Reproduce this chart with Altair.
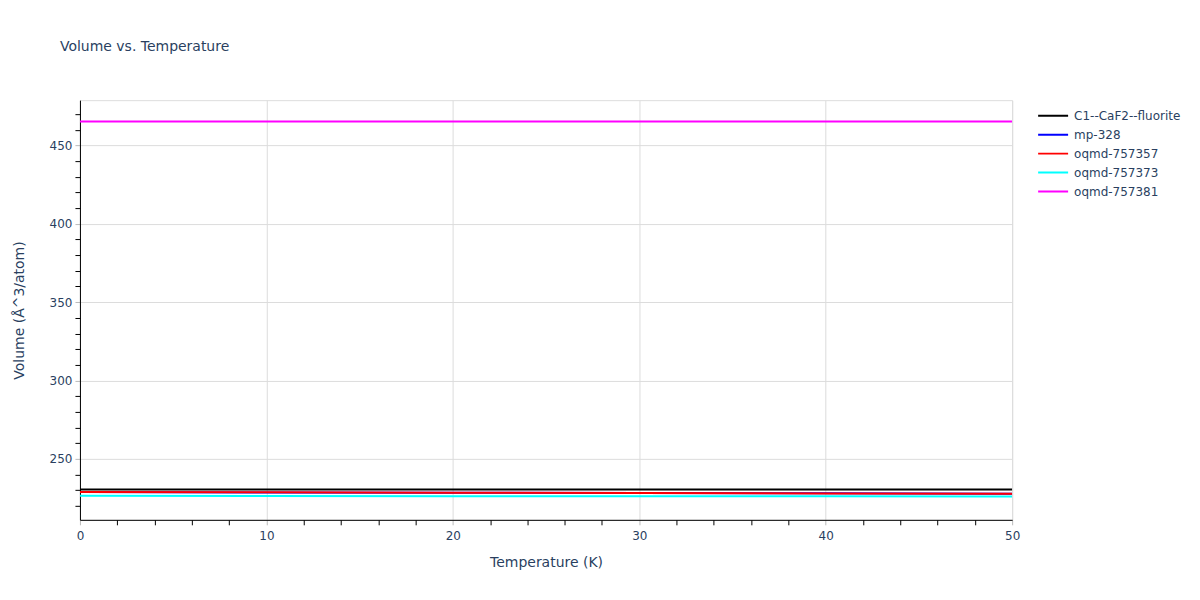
import altair as alt
import pandas as pd

temperature = [0, 10, 20, 30, 40, 50]
c1_caf2_fluorite = [230.3, 230.3, 230.3, 230.3, 230.3, 230.3]
mp_328 = [228.7, 228.5, 228.3, 228.1, 227.9, 227.7]
oqmd_757357 = [228.8, 228.6, 228.3, 228.1, 227.8, 227.6]
oqmd_757373 = [226.3, 226.2, 226.1, 226.0, 226.0, 225.9]
oqmd_757381 = [465.3, 465.3, 465.3, 465.4, 465.4, 465.4]

series_names = ["C1--CaF2--fluorite", "mp-328", "oqmd-757357", "oqmd-757373", "oqmd-757381"]
series_values = [c1_caf2_fluorite, mp_328, oqmd_757357, oqmd_757373, oqmd_757381]
series_colors = ["#000000", "#0000ff", "#ff0000", "#00ffff", "#ff00ff"]

x_tick_values = list(range(0, 51, 2))
y_tick_values = list(range(220, 471, 10))

rows = []
for name, vals in zip(series_names, series_values):
    for t, v in zip(temperature, vals):
        rows.append({"Temperature": t, "Volume": v, "Series": name})
df = pd.DataFrame(rows)

FONT = "DejaVu Sans"
TXT = "#2a3f5f"

x_axis = alt.Axis(
    title="Temperature (K)",
    values=x_tick_values,
    labelExpr="datum.value % 10 === 0 ? datum.label : ''",
    labelFlush=False,
    grid=True,
    gridColor="#dcdcdc",
    gridOpacity={"condition": {"test": "datum.value % 10 !== 0", "value": 0}, "value": 1},
    tickColor={"condition": {"test": "datum.value % 10 !== 0", "value": "#000000"}, "value": "#bbbbbb"},
    tickSize=5,
    tickWidth=1,
    domainColor="#000000",
    labelFontSize=12,
    labelFont=FONT,
    labelColor=TXT,
    labelPadding=6,
    titleFont=FONT,
    titleFontSize=14,
    titleFontWeight="normal",
    titleColor=TXT,
    titlePadding=14,
)

y_axis = alt.Axis(
    title="Volume (Å^3/atom)",
    values=y_tick_values,
    labelExpr="datum.value % 50 === 0 ? datum.label : ''",
    grid=True,
    gridColor="#dcdcdc",
    gridOpacity={"condition": {"test": "datum.value % 50 !== 0", "value": 0}, "value": 1},
    tickColor={"condition": {"test": "datum.value % 50 !== 0", "value": "#000000"}, "value": "#bbbbbb"},
    tickSize=5,
    tickWidth=1,
    domainColor="#000000",
    labelFontSize=12,
    labelFont=FONT,
    labelColor=TXT,
    labelPadding=3,
    titleFont=FONT,
    titleFontSize=14,
    titleFontWeight="normal",
    titleColor=TXT,
    titlePadding=23,
)

chart = (
    alt.Chart(df)
    .mark_line(strokeWidth=2, clip=True)
    .encode(
        x=alt.X("Temperature:Q", scale=alt.Scale(domain=[0, 50], nice=False, zero=False), axis=x_axis),
        y=alt.Y("Volume:Q", scale=alt.Scale(domain=[211, 479], nice=False, zero=False), axis=y_axis),
        color=alt.Color(
            "Series:N",
            scale=alt.Scale(domain=series_names, range=series_colors),
            legend=alt.Legend(
                title=None,
                orient="none",
                legendX=958,
                legendY=6,
                symbolType="stroke",
                symbolSize=900,
                symbolStrokeWidth=2,
                labelFont=FONT,
                labelFontSize=12,
                labelColor=TXT,
                labelOffset=5,
                rowPadding=0,
                clipHeight=19,
            ),
        ),
        order=alt.Order("Temperature:Q"),
    )
    .properties(
        width=933,
        height=420,
        title=alt.TitleParams(
            "Volume vs. Temperature",
            anchor="start",
            frame="group",
            dx=-20,
            offset=46,
            font=FONT,
            fontSize=14,
            fontWeight="normal",
            color=TXT,
        ),
        autosize=alt.AutoSizeParams(type="none"),
        padding={"left": 72, "top": 92, "right": 180, "bottom": 76},
    )
    .configure_view(stroke=None)
    .configure(background="white")
)

chart.save("out.html", embed_options={"renderer": "svg", "actions": False})
